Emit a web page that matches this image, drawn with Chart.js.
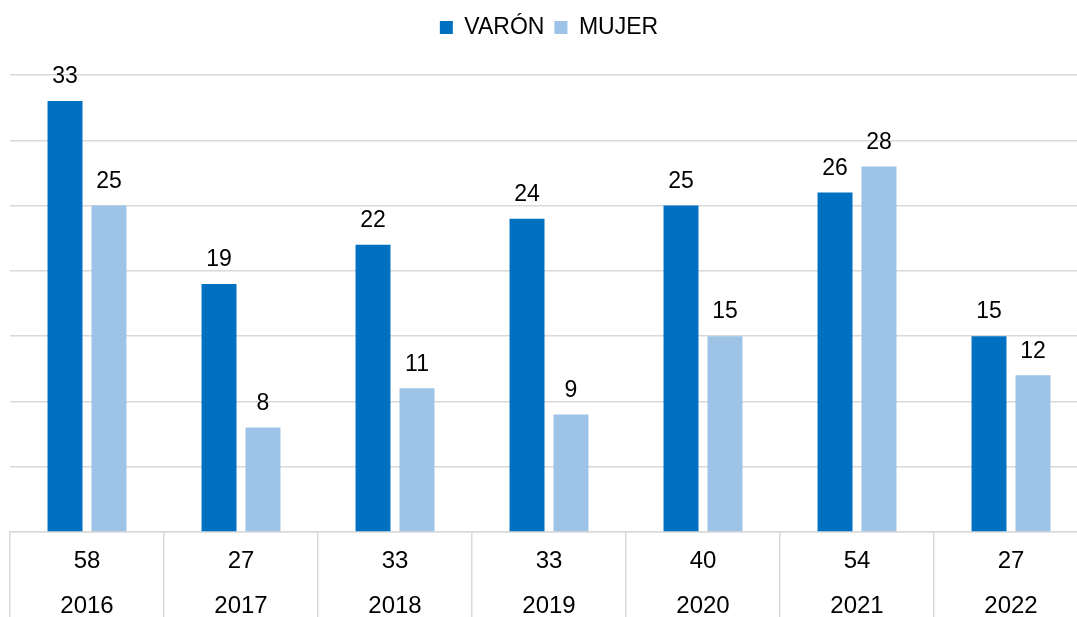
<!DOCTYPE html>
<html lang="es">
<head>
<meta charset="utf-8">
<title>Varón / Mujer 2016-2022</title>
<script src="https://cdn.jsdelivr.net/npm/chart.js@4.4.0/dist/chart.umd.min.js"></script>
<style>
  html, body { margin: 0; padding: 0; background: #fff; overflow: hidden; }
  #wrap { width: 1088px; height: 617px; }
</style>
</head>
<body>
<div id="wrap"><canvas id="grafico"></canvas></div>
<script>
// Datos
const anios = ['2016', '2017', '2018', '2019', '2020', '2021', '2022'];
const totales = [58, 27, 33, 33, 40, 54, 27];
const varon = [33, 19, 22, 24, 25, 26, 15];
const mujer = [25, 8, 11, 9, 15, 28, 12];

const GRIS = '#d9d9d9';
const FUENTE = "'Liberation Sans', Arial, sans-serif";

// etiquetas de dos filas: total arriba, año abajo
const etiquetas = anios.map((a, i) => [String(totales[i]), a]);

// Valores encima de cada barra
const valoresPlugin = {
    id: 'valores',
    afterDatasetsDraw(chart) {
        const ctx = chart.ctx;
        ctx.save();
        ctx.font = '23px ' + FUENTE;
        ctx.fillStyle = '#000';
        ctx.textAlign = 'center';
        ctx.textBaseline = 'middle';
        chart.data.datasets.forEach((ds, i) => {
            chart.getDatasetMeta(i).data.forEach((bar, j) => {
                ctx.fillText(ds.data[j], bar.x, bar.y - 24);
            });
        });
        ctx.restore();
    }
};

// Espacio bajo la leyenda
const margenLeyenda = {
    id: 'margenLeyenda',
    beforeInit(chart) {
        const fitOrig = chart.legend.fit;
        chart.legend.fit = function () {
            fitOrig.bind(chart.legend)();
            this.height += 26;
        };
    }
};

new Chart(document.getElementById('grafico'), {
    type: 'bar',
    data: {
        labels: etiquetas,
        datasets: [
            {
                label: 'VARÓN',
                data: varon,
                backgroundColor: '#0070c0',
                categoryPercentage: 0.571,
                barPercentage: 0.795
            },
            {
                label: 'MUJER',
                data: mujer,
                backgroundColor: '#9dc3e6',
                categoryPercentage: 0.571,
                barPercentage: 0.795
            }
        ]
    },
    options: {
        responsive: true,
        maintainAspectRatio: false,
        animation: false,
        layout: { padding: { left: 10, top: 6, right: 0, bottom: 0 } },
        plugins: {
            tooltip: { enabled: false },
            legend: {
                position: 'top',
                labels: {
                    boxWidth: 13,
                    boxHeight: 13,
                    padding: 10,
                    color: '#000',
                    font: { family: FUENTE, size: 23 }
                }
            }
        },
        scales: {
            x: {
                offset: true,
                grid: {
                    offset: true,
                    drawOnChartArea: false,
                    drawTicks: true,
                    tickLength: 85,
                    color: GRIS,
                    lineWidth: 1.5
                },
                border: { display: true, color: GRIS, width: 1.5 },
                ticks: {
                    autoSkip: false,
                    maxRotation: 0,
                    color: '#000',
                    padding: -78.5,
                    font: { family: FUENTE, size: 24, lineHeight: '45px' }
                },
                afterFit(scale) { scale.height = 85; }
            },
            y: {
                min: 0,
                max: 35,
                ticks: { display: false, stepSize: 5 },
                grid: { color: GRIS, lineWidth: 1.5, drawTicks: false },
                border: { display: false },
                afterFit(scale) { scale.width = 0; }
            }
        }
    },
    plugins: [valoresPlugin, margenLeyenda]
});
</script>
</body>
</html>
